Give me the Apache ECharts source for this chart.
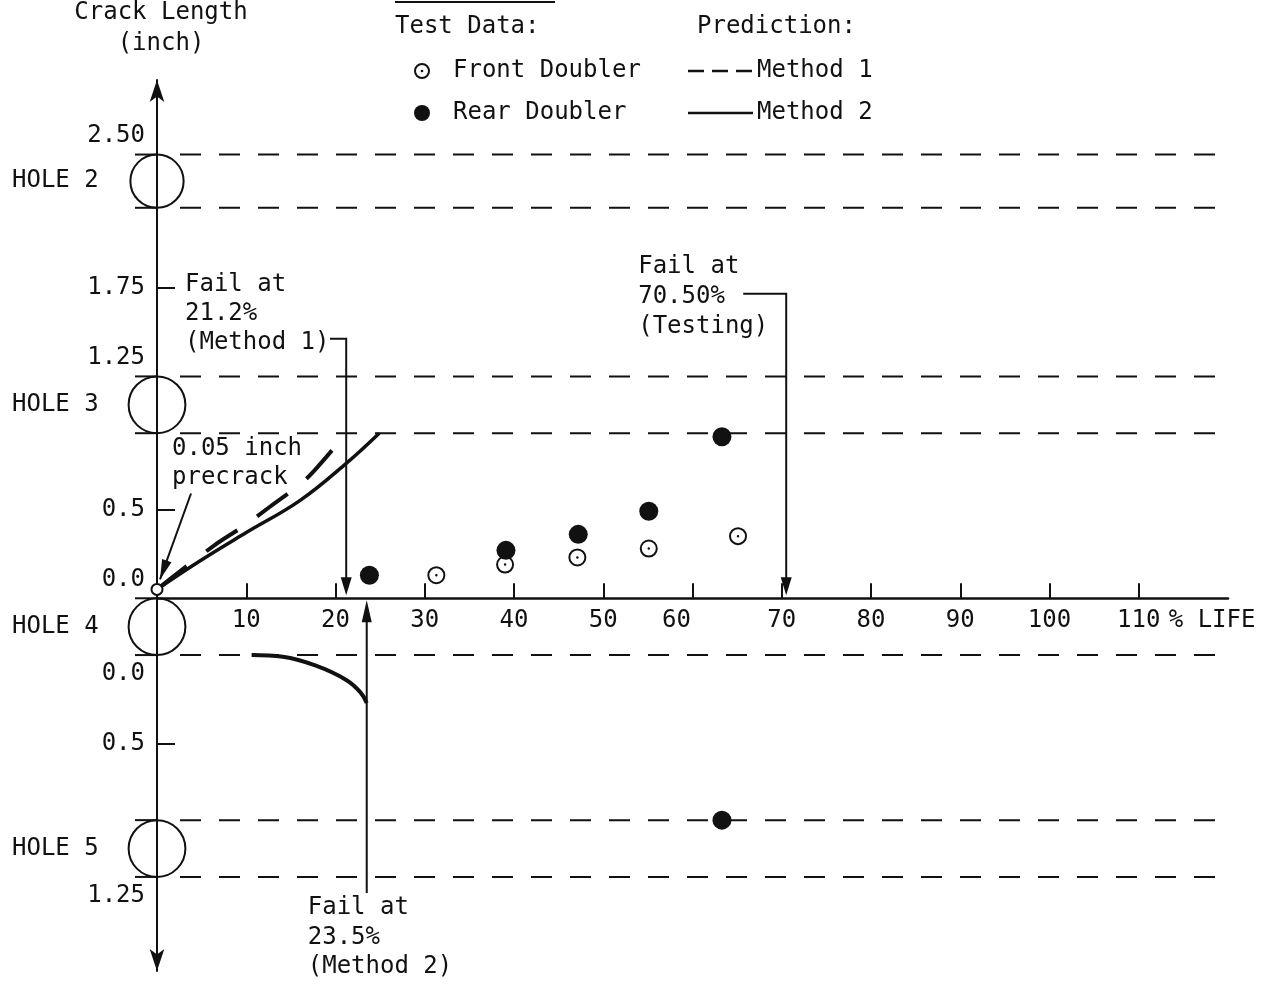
<!DOCTYPE html>
<html>
<head>
<meta charset="utf-8">
<title>Crack Length vs. % Life</title>
<script src="https://cdn.jsdelivr.net/npm/echarts@6/dist/echarts.min.js"></script>
<style>
  html, body { margin: 0; padding: 0; background: #fff; }
  #main { width: 1265px; height: 986px; }
</style>
</head>
<body>
<div id="main"></div>
<script>
// Fatigue crack growth between fastener holes: test data and two predictions.
const FONT = 'DejaVu Sans Mono';
const INK = '#111';
const FS = 24;

// % life axis
const lifeMax = 120;
const lifeTicks = [10, 20, 30, 40, 50, 60, 70, 80, 90, 100, 110];

// Vertical scale: cracks above the life axis grow from hole 4 toward holes 3 and 2,
// cracks below grow from the lower edge of hole 4 toward hole 5.
const HOLE4_DIAMETER = 0.32;
const up = c => c;
const down = c => -(HOLE4_DIAMETER + c);
const Y_MIN = -2.1;
const Y_MAX = 2.92;

const upperTickLabels = ['0.0', '0.5', '1.25', '1.75', '2.50'];
const upperTickValues = [0, 0.5, 1.25, 1.75, 2.50];
const lowerTickLabels = ['0.0', '0.5', '1.25'];
const lowerTickValues = [0, 0.5, 1.25];
const yTickMarks = [up(0.5), up(1.75), down(0.5)];

// Holes, with the crack length at each edge
const holeNames = ['HOLE 2', 'HOLE 3', 'HOLE 4', 'HOLE 5'];
const holeTopEdge = [up(2.50), up(1.25), up(0), down(0.93)];
const holeBottomEdge = [up(2.20), up(0.93), down(0), down(1.25)];

// Test data: [% life, crack length (inch)]
const frontDoubler = [[31.3, 0.13], [39.0, 0.19], [47.1, 0.23], [55.1, 0.28], [65.1, 0.35]];
const rearDoubler = [[23.8, 0.13], [39.1, 0.27], [47.2, 0.36], [55.1, 0.49], [63.3, 0.91]];
const rearDoublerLower = [[63.3, 0.93]];
const precrack = [[0, 0.05]];

// Predictions: [% life, crack length (inch)]
const method1 = [[0, 0.05], [6.2, 0.29], [9.8, 0.41], [12.5, 0.51], [16.2, 0.65], [18.0, 0.74], [21.2, 0.93]];
const method2 = [[0, 0.05], [4.8, 0.21], [10.0, 0.37], [16.0, 0.55], [21.2, 0.76], [24.9, 0.93]];
const method2Lower = [[10.6, 0], [14.1, 0.01], [17.8, 0.06], [21.2, 0.14], [22.8, 0.21], [23.5, 0.27]];

// Failure points, % life
const failMethod1 = 21.2;
const failMethod2 = 23.5;
const failTesting = 70.5;

const toUpper = d => d.map(([x, c]) => [x, up(c)]);
const toLower = d => d.map(([x, c]) => [x, down(c)]);

const yLabelValues = upperTickValues.map(up).concat(lowerTickValues.map(down));
const yLabelTexts = upperTickLabels.concat(lowerTickLabels);
const near = (a, b) => Math.abs(a - b) < 1e-6;

// circle with a centre dot
const DOT_CIRCLE = 'path://M50,0A50,50 0 1,1 50,100A50,50 0 1,1 50,0Z' +
  'M50,11A39,39 0 1,0 50,89A39,39 0 1,0 50,11Z' +
  'M50,43A7,7 0 1,1 50,57A7,7 0 1,1 50,43Z';

const textBase = { fontFamily: FONT, fontSize: FS, color: INK };

const GRID = { left: 157, right: 37, top: 80, bottom: 15 };
const gridHeight = 986 - GRID.top - GRID.bottom;
// lift the life axis from the grid floor up to crack length zero
const lifeAxisOffset = -gridHeight * (0 - Y_MIN) / (Y_MAX - Y_MIN);

const chart = echarts.init(document.getElementById('main'), null, { renderer: 'canvas' });

const option = {
  backgroundColor: '#fff',
  animation: false,
  grid: { ...GRID, outerBoundsMode: 'none', containLabel: false },
  xAxis: {
    type: 'value', min: 0, max: lifeMax, position: 'bottom', offset: lifeAxisOffset,
    axisLine: { onZero: false, lineStyle: { color: INK, width: 2.5 } },
    axisTick: { show: true, inside: true, length: 15, customValues: lifeTicks, lineStyle: { color: INK, width: 2 } },
    axisLabel: {
      ...textBase, margin: 10, customValues: lifeTicks,
      formatter: v => v === 60 ? '{sh|60}' : String(v),
      rich: { sh: { ...textBase, padding: [0, 32, 0, 0] } }
    },
    splitLine: { show: false }
  },
  yAxis: {
    type: 'value', min: Y_MIN, max: Y_MAX,
    axisLine: { onZero: false, symbol: ['arrow', 'arrow'], symbolSize: [11, 22], lineStyle: { color: INK, width: 2 } },
    axisTick: { show: true, inside: true, length: 18, customValues: yTickMarks, lineStyle: { color: INK, width: 2 } },
    axisLabel: {
      ...textBase, margin: 12, lineHeight: 38, customValues: yLabelValues,
      formatter: v => {
        const i = yLabelValues.findIndex(p => near(p, v));
        if (i < 0) return '';
        const t = yLabelTexts[i];
        // labels on a hole edge sit clear of the hole outline
        if (holeTopEdge.some(p => near(p, v))) return t + '\n\u00a0';
        if (holeBottomEdge.some(p => near(p, v))) return '\u00a0\n' + t;
        return t;
      }
    },
    splitLine: { show: false }
  },
  series: [
    {
      type: 'custom', name: 'Holes', silent: true, clip: false, z: 1,
      data: holeNames.map((n, i) => ({ name: n, value: [0, holeTopEdge[i], holeBottomEdge[i]] })),
      encode: { x: 0, y: [1, 2] },
      renderItem(params, api) {
        const i = params.dataIndex;
        const top = api.coord([0, api.value(1)]);
        const bot = api.coord([0, api.value(2)]);
        const cx = top[0];
        const cy = (top[1] + bot[1]) / 2;
        const r = (bot[1] - top[1]) / 2;
        const xEnd = api.coord([lifeMax, 0])[0];
        const children = [
          { type: 'circle', shape: { cx, cy, r }, style: { fill: null, stroke: INK, lineWidth: 2 } },
          { type: 'text', x: 12, y: cy, style: {
              text: holeNames[i], fill: INK, font: `${FS}px "${FONT}"`,
              align: 'left', verticalAlign: 'middle', textAlign: 'left', textVerticalAlign: 'middle' } }
        ];
        [1, 2].forEach(k => {
          const y = k === 1 ? top[1] : bot[1];
          children.push({ type: 'line', shape: { x1: cx - 22, y1: y, x2: cx, y2: y }, style: { stroke: INK, lineWidth: 2 } });
          // the edge on the life axis is the axis line itself
          if (!near(api.value(k), 0)) {
            children.push({ type: 'line', shape: { x1: cx + 23, y1: y, x2: xEnd, y2: y },
              style: { stroke: INK, lineWidth: 2, lineDash: [21, 18] } });
          }
        });
        return { type: 'group', children };
      }
    },
    {
      type: 'line', name: 'Method 1', data: toUpper(method1), smooth: 0.4, showSymbol: false, z: 3,
      lineStyle: { color: INK, width: 4, type: [38, 24], cap: 'butt' }
    },
    {
      type: 'line', name: 'Method 2', data: toUpper(method2), smooth: 0.4, showSymbol: false, z: 3,
      lineStyle: { color: INK, width: 3.5 }
    },
    {
      type: 'line', name: 'Method 2 (toward hole 5)', data: toLower(method2Lower), smooth: 0.4, showSymbol: false, z: 3,
      lineStyle: { color: INK, width: 4 }
    },
    {
      type: 'scatter', name: 'Front Doubler', data: toUpper(frontDoubler), symbol: DOT_CIRCLE, symbolSize: 18, z: 5,
      itemStyle: { color: INK, opacity: 1 }
    },
    {
      type: 'scatter', name: 'Rear Doubler', data: toUpper(rearDoubler).concat(toLower(rearDoublerLower)),
      symbol: 'circle', symbolSize: 19, z: 5, itemStyle: { color: INK, opacity: 1 }
    },
    {
      type: 'scatter', name: 'Precrack', data: toUpper(precrack), symbol: 'emptyCircle', symbolSize: 11, z: 6,
      itemStyle: { color: INK, borderColor: INK, borderWidth: 1.8, opacity: 1 }
    }
  ]
};

chart.setOption(option);

// ---- annotations, placed from the axes ----
const X = v => chart.convertToPixel({ xAxisIndex: 0 }, v);
const Y = v => chart.convertToPixel({ yAxisIndex: 0 }, v);

function text(str, x, y, align) {
  return { type: 'text', silent: true, style: {
    text: str, x, y, fill: INK, font: `${FS}px "${FONT}"`,
    textAlign: align || 'left', textVerticalAlign: 'middle', align: align || 'left', verticalAlign: 'middle' } };
}
function lines(strs, x, y0, step, align) {
  return strs.map((s, k) => text(s, x, y0 + k * step, align));
}
function poly(points, w) {
  return { type: 'polyline', silent: true, shape: { points }, style: { stroke: INK, lineWidth: w || 2, fill: null } };
}
function head(tip, from, len, half) {
  len = len || 18; half = half || 5.5;
  const dx = tip[0] - from[0], dy = tip[1] - from[1];
  const d = Math.hypot(dx, dy), ux = dx / d, uy = dy / d;
  const bx = tip[0] - ux * len, by = tip[1] - uy * len;
  return { type: 'polygon', silent: true, shape: { points: [tip, [bx - uy * half, by + ux * half], [bx + uy * half, by - ux * half]] },
    style: { fill: INK } };
}

const x0 = X(0);
const y0 = Y(0);
const g = [];

// axis titles
g.push(...lines(['Crack Length', '(inch)'], x0 + 4, 13, 31, 'center'));
g.push(text('% LIFE', X(110) + 30, y0 + 22));

// Method 1 failure
{
  const yRef = Y(up(1.75));
  g.push(...lines(['Fail at', '21.2%', '(Method 1)'], x0 + 28, yRef - 3, 29));
  const ax = X(failMethod1), yc = yRef + 51;
  const tip = [ax, y0 - 3];
  g.push(poly([[x0 + 173, yc], [ax, yc], [ax, tip[1] - 10]]));
  g.push(head(tip, [ax, yc]));
}
// Testing failure
{
  const ax = X(failTesting);
  const yRef = Y(up(1.75)) - 21;
  g.push(...lines(['Fail at', '70.50%', '(Testing)'], ax - 148, yRef, 30));
  const yc = yRef + 27;
  const tip = [ax, y0 - 3];
  g.push(poly([[ax - 43, yc], [ax, yc], [ax, tip[1] - 10]]));
  g.push(head(tip, [ax, yc]));
}
// Method 2 failure
{
  const ax = X(failMethod2);
  const yb = Y(down(1.25)) + 16;
  const tip = [ax, y0 + 2];
  g.push(poly([[ax, yb], [ax, tip[1] + 10]]));
  g.push(head(tip, [ax, yb], 22, 5));
  g.push(...lines(['Fail at', '23.5%', '(Method 2)'], ax - 59, yb + 15, 29.5));
}
// Precrack note
{
  const yRef = Y(up(0.5));
  g.push(...lines(['0.05 inch', 'precrack'], x0 + 15, yRef - 61, 29));
  const from = [x0 + 34, yRef - 16];
  const tip = [x0 + 3, Y(up(precrack[0][1])) - 10];
  g.push(poly([from, tip]));
  g.push(head(tip, from, 20, 5));
}

// legend
g.push(poly([[395, 2], [555, 2]], 2));
g.push(text('Test Data:', 395, 27));
g.push(text('Prediction:', 697, 27));
g.push({ type: 'circle', silent: true, shape: { cx: 422, cy: 71, r: 7 }, style: { fill: null, stroke: INK, lineWidth: 2 } });
g.push({ type: 'circle', silent: true, shape: { cx: 422, cy: 71, r: 1.3 }, style: { fill: INK } });
g.push(text('Front Doubler', 453, 71));
g.push({ type: 'circle', silent: true, shape: { cx: 422, cy: 113, r: 8 }, style: { fill: INK } });
g.push(text('Rear Doubler', 453, 113));
g.push({ type: 'line', silent: true, shape: { x1: 688, y1: 71, x2: 753, y2: 71 }, style: { stroke: INK, lineWidth: 2.5, lineDash: [16, 8] } });
g.push(text('Method 1', 757, 71));
g.push({ type: 'line', silent: true, shape: { x1: 688, y1: 113, x2: 753, y2: 113 }, style: { stroke: INK, lineWidth: 2.5 } });
g.push(text('Method 2', 757, 113));

chart.setOption({ graphic: { elements: g } });
</script>
</body>
</html>
